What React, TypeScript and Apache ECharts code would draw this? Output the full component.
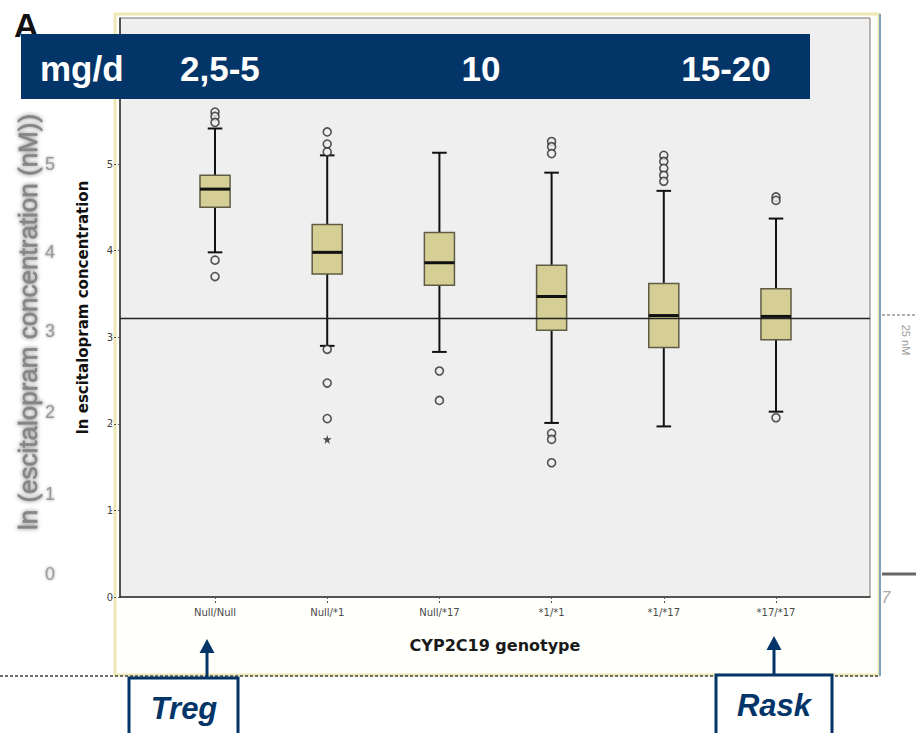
import React, { useEffect, useRef } from "react";
import * as echarts from "echarts";

// CYP2C19 genotype groups along the x axis
const genotypes = ["Null/Null", "Null/*1", "Null/*17", "*1/*1", "*1/*17", "*17/*17"];

// Box-plot statistics (ln escitalopram concentration)
const whiskerLow = [3.98, 2.9, 2.83, 2.01, 1.97, 2.14];
const quartile1 = [4.5, 3.73, 3.6, 3.08, 2.88, 2.97];
const medians = [4.71, 3.98, 3.86, 3.47, 3.25, 3.24];
const quartile3 = [4.87, 4.3, 4.21, 3.83, 3.62, 3.56];
const whiskerHigh = [5.41, 5.1, 5.13, 4.9, 4.69, 4.37];

// Outliers per genotype (circles) and extreme values (stars)
const outliers = [
  [5.6, 5.55, 5.48, 3.89, 3.7],
  [5.37, 5.23, 5.14, 2.86, 2.47, 2.06],
  [2.61, 2.27],
  [5.26, 5.2, 5.12, 1.89, 1.82, 1.55],
  [5.1, 5.03, 4.95, 4.87, 4.8],
  [4.62, 4.58, 2.07],
];
const extremes = [[1, 1.82]];

// Reference level: ln(25 nM)
const referenceLevel = 3.22;

// Axis tick values
const yTicks = [0, 1, 2, 3, 4, 5];
const xTicks = [0, 1, 2, 3, 4, 5];

// Dose banner and study labels
const doseUnit = "mg/d";
const doseLabels = ["2,5-5", "10", "15-20"];
const studyLabels = ["Treg", "Rask"];

// Background slide remnants
const slideAxisTitle = "ln (escitalopram concentration (nM))";
const slideTicks = ["5", "4", "3", "2", "1", "0"];

const NAVY = "#033568";
const STAR = "path://M50,0 L61,35 L98,35 L68,57 L79,91 L50,70 L21,91 L32,57 L2,35 L39,35 Z";

export default function App() {
  const ref = useRef<HTMLDivElement>(null);

  useEffect(() => {
    document.body.style.margin = "0";
    const chart = echarts.init(ref.current!, null, { renderer: "svg" });

    const boxData = genotypes.map((_, i) => [
      i,
      whiskerLow[i],
      quartile1[i],
      medians[i],
      quartile3[i],
      whiskerHigh[i],
    ]);
    const outlierData: number[][] = [];
    outliers.forEach((vals, i) => vals.forEach((v) => outlierData.push([i, v])));

    const slideTickY = [164, 252, 331, 412, 494, 574];

    const option: any = {
      animation: false,
      backgroundColor: "#ffffff",
      grid: {
        left: 120,
        top: 18,
        width: 750,
        height: 579,
        show: true,
        backgroundColor: "#efefef",
        borderColor: "#7d7370",
        borderWidth: 1,
      },
      xAxis: {
        type: "value",
        min: -0.847,
        max: 5.838,
        name: "CYP2C19 genotype",
        nameLocation: "middle",
        nameGap: 40,
        nameTextStyle: {
          fontFamily: "DejaVu Sans",
          fontWeight: "bold",
          fontSize: 16,
          color: "#1a1a1a",
        },
        axisLine: { show: true, onZero: false, lineStyle: { color: "#333", width: 1.5 } },
        axisTick: {
          show: true,
          customValues: xTicks,
          length: 8,
          lineStyle: { color: "#555", type: [2, 2] },
        },
        axisLabel: {
          customValues: xTicks,
          formatter: (v: number) => genotypes[Math.round(v)] ?? "",
          fontFamily: "DejaVu Sans",
          fontSize: 10,
          color: "#4a4a4a",
          margin: 10,
        },
        splitLine: { show: false },
      },
      yAxis: {
        type: "value",
        min: 0,
        max: 6.686,
        name: "ln escitalopram concentration",
        nameLocation: "middle",
        nameGap: 30,
        nameTextStyle: {
          fontFamily: "DejaVu Sans",
          fontWeight: "bold",
          fontSize: 15,
          color: "#111",
        },
        axisLine: { show: true, onZero: false, lineStyle: { color: "#333", width: 1.5 } },
        axisTick: {
          show: true,
          customValues: yTicks,
          length: 9,
          lineStyle: { color: "#555", type: [2, 2] },
        },
        axisLabel: {
          customValues: yTicks,
          fontFamily: "DejaVu Sans",
          fontSize: 10,
          color: "#444",
          margin: 7,
        },
        splitLine: { show: false },
      },
      series: [
        {
          type: "custom",
          name: "box",
          data: boxData,
          encode: { x: 0, y: [1, 2, 3, 4, 5] },
          renderItem: (params: any, api: any) => {
            const x = api.value(0);
            const lo = api.coord([x, api.value(1)]);
            const q1 = api.coord([x, api.value(2)]);
            const md = api.coord([x, api.value(3)]);
            const q3 = api.coord([x, api.value(4)]);
            const hi = api.coord([x, api.value(5)]);
            const unit = api.size([1, 0])[0];
            const bw = unit * 0.268;
            const cw = unit * 0.13;
            const cx = md[0];
            const whisker = { stroke: "#111", lineWidth: 2 };
            return {
              type: "group",
              children: [
                { type: "line", shape: { x1: cx, y1: hi[1], x2: cx, y2: q3[1] }, style: whisker },
                { type: "line", shape: { x1: cx, y1: q1[1], x2: cx, y2: lo[1] }, style: whisker },
                { type: "line", shape: { x1: cx - cw / 2, y1: hi[1], x2: cx + cw / 2, y2: hi[1] }, style: whisker },
                { type: "line", shape: { x1: cx - cw / 2, y1: lo[1], x2: cx + cw / 2, y2: lo[1] }, style: whisker },
                {
                  type: "rect",
                  shape: { x: cx - bw / 2, y: q3[1], width: bw, height: q1[1] - q3[1] },
                  style: { fill: "#d5cf95", stroke: "#5f5b45", lineWidth: 1.5 },
                },
                {
                  type: "line",
                  shape: { x1: cx - bw / 2, y1: md[1], x2: cx + bw / 2, y2: md[1] },
                  style: { stroke: "#111", lineWidth: 3 },
                },
              ],
            };
          },
          markLine: {
            silent: true,
            symbol: "none",
            label: { show: false },
            lineStyle: { color: "#222", width: 1.3, type: "solid" },
            data: [{ yAxis: referenceLevel }],
          },
          z: 3,
        },
        {
          type: "scatter",
          name: "outliers",
          data: outlierData,
          symbol: "circle",
          symbolSize: 8,
          itemStyle: { color: "#efefef", borderColor: "#2a2a2a", borderWidth: 1.6 },
          z: 4,
        },
        {
          type: "scatter",
          name: "extremes",
          data: extremes,
          symbol: STAR,
          symbolSize: 9,
          itemStyle: { color: "#222" },
          z: 4,
        },
      ],
      graphic: [
        // outer chart frame
        {
          type: "rect",
          z: -10,
          shape: { x: 115, y: 14, width: 764, height: 661 },
          style: { fill: "#fffffb", stroke: "#efe7b4", lineWidth: 3 },
        },
        {
          type: "line",
          z: -9,
          shape: { x1: 880, y1: 14, x2: 880, y2: 676 },
          style: { stroke: "#7fa2bb", lineWidth: 2 },
        },
        {
          type: "line",
          z: -9,
          shape: { x1: 0, y1: 676, x2: 880, y2: 676 },
          style: { stroke: "#6e6e6e", lineWidth: 2, lineDash: [3, 2] },
        },
        // background slide remnants on the left
        {
          type: "text",
          z: -9,
          x: 28,
          y: 322,
          rotation: Math.PI / 2,
          style: {
            text: slideAxisTitle,
            font: "26px 'Liberation Sans'",
            fill: "#858585",
            stroke: "#9a9a9a",
            lineWidth: 0.8,
            align: "center",
            verticalAlign: "middle",
            textShadowColor: "#8a8a8a",
            textShadowBlur: 4,
          },
        },
        ...slideTicks.map((t, i) => ({
          type: "text",
          z: -9,
          x: 50,
          y: slideTickY[i],
          style: {
            text: t,
            font: "18px 'Liberation Sans'",
            fill: "#9a9a9a",
            align: "center",
            verticalAlign: "middle",
            textShadowColor: "#a0a0a0",
            textShadowBlur: 3,
          },
        })),
        // background slide remnants on the right
        {
          type: "line",
          z: -9,
          shape: { x1: 882, y1: 315, x2: 916, y2: 315 },
          style: { stroke: "#b0b0b0", lineWidth: 2, lineDash: [3, 2] },
        },
        {
          type: "text",
          z: -9,
          x: 906,
          y: 340,
          rotation: -Math.PI / 2,
          style: {
            text: "25 nM",
            font: "11px 'Liberation Sans'",
            fill: "#9a9a9a",
            align: "center",
            verticalAlign: "middle",
          },
        },
        {
          type: "line",
          z: -9,
          shape: { x1: 882, y1: 574, x2: 916, y2: 574 },
          style: { stroke: "#666", lineWidth: 3 },
        },
        {
          type: "text",
          z: -9,
          x: 886,
          y: 597,
          style: {
            text: "7",
            font: "italic 16px 'Liberation Sans'",
            fill: "#a8a8a8",
            align: "center",
            verticalAlign: "middle",
          },
        },
        // panel letter
        {
          type: "text",
          z: 40,
          x: 14,
          y: 8,
          style: {
            text: "A",
            font: "bold 34px 'Liberation Sans'",
            fill: "#111",
          },
        },
        // dose banner
        {
          type: "rect",
          z: 50,
          shape: { x: 21, y: 34, width: 789, height: 65 },
          style: { fill: NAVY },
        },
        {
          type: "text",
          z: 51,
          x: 40,
          y: 68,
          style: {
            text: doseUnit,
            font: "bold 35px 'Liberation Sans'",
            fill: "#ffffff",
            align: "left",
            verticalAlign: "middle",
          },
        },
        {
          type: "text",
          z: 51,
          x: 180,
          y: 68,
          style: {
            text: doseLabels[0],
            font: "bold 35px 'Liberation Sans'",
            fill: "#ffffff",
            align: "left",
            verticalAlign: "middle",
          },
        },
        {
          type: "text",
          z: 51,
          x: 481,
          y: 68,
          style: {
            text: doseLabels[1],
            font: "bold 35px 'Liberation Sans'",
            fill: "#ffffff",
            align: "center",
            verticalAlign: "middle",
          },
        },
        {
          type: "text",
          z: 51,
          x: 726,
          y: 68,
          style: {
            text: doseLabels[2],
            font: "bold 35px 'Liberation Sans'",
            fill: "#ffffff",
            align: "center",
            verticalAlign: "middle",
          },
        },
        // study callouts with arrows
        {
          type: "line",
          z: 50,
          shape: { x1: 207, y1: 650, x2: 207, y2: 678 },
          style: { stroke: NAVY, lineWidth: 3 },
        },
        {
          type: "polygon",
          z: 50,
          shape: { points: [[207, 639], [199.5, 653], [214.5, 653]] },
          style: { fill: NAVY },
        },
        {
          type: "rect",
          z: 50,
          shape: { x: 129, y: 678, width: 109, height: 70 },
          style: { fill: "#ffffff", stroke: NAVY, lineWidth: 3 },
        },
        {
          type: "text",
          z: 51,
          x: 184,
          y: 708,
          style: {
            text: studyLabels[0],
            font: "italic bold 31px 'Liberation Sans'",
            fill: NAVY,
            align: "center",
            verticalAlign: "middle",
          },
        },
        {
          type: "line",
          z: 50,
          shape: { x1: 774, y1: 647, x2: 774, y2: 675 },
          style: { stroke: NAVY, lineWidth: 3 },
        },
        {
          type: "polygon",
          z: 50,
          shape: { points: [[774, 636], [766.5, 650], [781.5, 650]] },
          style: { fill: NAVY },
        },
        {
          type: "rect",
          z: 50,
          shape: { x: 716, y: 675, width: 116, height: 70 },
          style: { fill: "#ffffff", stroke: NAVY, lineWidth: 3 },
        },
        {
          type: "text",
          z: 51,
          x: 774,
          y: 705,
          style: {
            text: studyLabels[1],
            font: "italic bold 31px 'Liberation Sans'",
            fill: NAVY,
            align: "center",
            verticalAlign: "middle",
          },
        },
      ],
    };

    chart.setOption(option);
    return () => chart.dispose();
  }, []);

  return <div ref={ref} style={{ width: 916, height: 733 }} />;
}
